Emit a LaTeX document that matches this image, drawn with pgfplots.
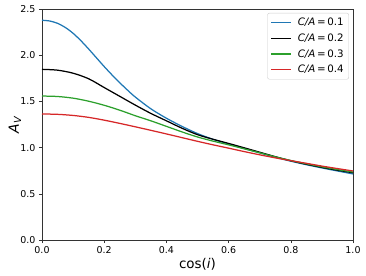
\documentclass[border=0pt]{standalone}
\usepackage{fontspec}
\setmainfont{DejaVu Sans}
\usepackage{pgfplots}
\pgfplotsset{compat=1.18}
\definecolor{tabblue}{HTML}{1F77B4}
\definecolor{tabgreen}{HTML}{2CA02C}
\definecolor{tabred}{HTML}{D62728}
\begin{document}
\begin{tikzpicture}
\begin{axis}[
  at={(0,0)}, anchor=south west,
  scale only axis, width=311bp, height=231bp,
  xmin=0, xmax=1, ymin=0, ymax=2.5,
  xtick={0,0.2,0.4,0.6,0.8,1.0},
  ytick={0,0.5,1.0,1.5,2.0,2.5},
  tick align=outside, major tick length=3bp,
  tick style={black!80, line width=0.6pt},
  axis line style={black!80, line width=0.6pt},
  tick pos=left,
  /pgf/number format/assume math mode=true,
  /pgf/number format/.cd, fixed, fixed zerofill, precision=1,
  /pgfplots/.cd,
  ticklabel style={font=\fontsize{9.5}{10}\selectfont},
  xlabel={cos(\textit{i})},
  ylabel={\textit{A}\textsubscript{\textit{V}}},
  xlabel style={font=\fontsize{13.5}{14}\selectfont, at={(axis description cs:0.5,-0.105)}, anchor=center},
  ylabel style={font=\fontsize{14}{14}\selectfont, at={(axis description cs:-0.087,0.5)}, anchor=center, rotate=0},
  legend style={at={(axis description cs:0.987,0.983)}, anchor=north east,
    draw=black!20, rounded corners=2pt, font=\fontsize{10.3}{12}\selectfont,
    row sep=2.6pt, inner xsep=3pt, inner ysep=3pt,
    /tikz/every odd column/.style={column sep=4bp}},
  legend cell align=left,
  legend image code/.code={\draw[#1, line width=1.3bp] (0bp,0bp) -- (20bp,0bp);},
  every axis plot/.append style={line width=1.25pt, smooth, tension=0.5},
]
\addplot[tabblue] coordinates {
(0,2.378) (0.025,2.37) (0.05,2.345) (0.075,2.30) (0.1,2.237) (0.125,2.157) (0.15,2.067) (0.175,1.972) (0.2,1.877) (0.225,1.787) (0.25,1.702) (0.275,1.622) (0.3,1.547) (0.35,1.42) (0.4,1.318) (0.45,1.23) (0.5,1.152) (0.55,1.09) (0.6,1.04) (0.65,0.99) (0.7,0.943) (0.75,0.896) (0.8,0.853) (0.85,0.815) (0.9,0.78) (0.95,0.747) (1.0,0.715)};
\addlegendentry{\textit{C/A}\,=\,0.1}
\addplot[black] coordinates {
(0,1.847) (0.05,1.838) (0.1,1.805) (0.15,1.745) (0.2,1.65) (0.25,1.555) (0.3,1.46) (0.35,1.37) (0.4,1.29) (0.45,1.21) (0.5,1.14) (0.55,1.09) (0.6,1.045) (0.65,0.998) (0.7,0.95) (0.75,0.902) (0.8,0.858) (0.85,0.82) (0.9,0.786) (0.95,0.755) (1.0,0.728)};
\addlegendentry{\textit{C/A}\,=\,0.2}
\addplot[tabgreen] coordinates {
(0,1.558) (0.05,1.553) (0.1,1.535) (0.15,1.502) (0.2,1.458) (0.25,1.405) (0.3,1.345) (0.35,1.29) (0.4,1.23) (0.45,1.17) (0.5,1.115) (0.55,1.07) (0.6,1.03) (0.65,0.987) (0.7,0.944) (0.75,0.90) (0.8,0.86) (0.85,0.825) (0.9,0.792) (0.95,0.762) (1.0,0.735)};
\addlegendentry{\textit{C/A}\,=\,0.3}
\addplot[tabred] coordinates {
(0,1.364) (0.05,1.36) (0.1,1.348) (0.15,1.327) (0.2,1.297) (0.25,1.262) (0.3,1.225) (0.35,1.187) (0.4,1.148) (0.45,1.108) (0.5,1.068) (0.55,1.03) (0.6,0.994) (0.65,0.957) (0.7,0.922) (0.75,0.889) (0.8,0.859) (0.85,0.83) (0.9,0.80) (0.95,0.773) (1.0,0.747)};
\addlegendentry{\textit{C/A}\,=\,0.4}
\end{axis}
\pgfresetboundingbox
\path (-42bp,-36bp) rectangle (324bp,240bp);
\end{tikzpicture}
\end{document}
